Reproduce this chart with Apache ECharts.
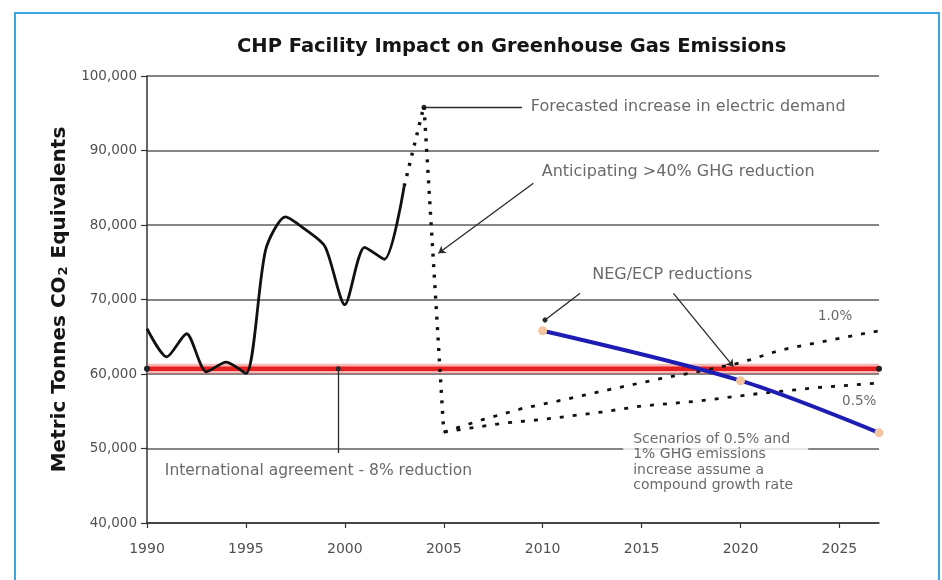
<!DOCTYPE html>
<html>
<head>
<meta charset="utf-8">
<title>CHP Facility Impact on Greenhouse Gas Emissions</title>
<script src="https://cdn.jsdelivr.net/npm/echarts@6/dist/echarts.min.js"></script>
<style>
  html, body { margin: 0; padding: 0; background: #ffffff; }
  #chart { width: 942px; height: 580px; }
</style>
</head>
<body>
<div id="chart"></div>
<script>
// ---- data -------------------------------------------------------------
// Measured emissions, 1990-2003 (tonnes CO2e)
const histYears  = [1990, 1991, 1992, 1993, 1994, 1995, 1996, 1997, 1998, 1999, 2000, 2001, 2002, 2003];
const histValues = [66100, 62300, 65400, 60300, 61600, 60100, 76700, 81100, 79400, 77100, 69300, 77000, 75400, 85200];

// Forecast demand spike, then the drop once the CHP plant runs
const forecastYears  = [2003, 2004, 2005];
const forecastValues = [85200, 96000, 52200];

// International agreement target: 8% below 1990
const targetYears  = [1990, 2027];
const targetValues = [60700, 60700];

// NEG/ECP reduction path
const negYears  = [2010, 2020, 2027];
const negValues = [65800, 59100, 52100];

// Growth scenarios after 2005
const growth10Years  = [2005, 2007, 2009, 2011, 2013, 2016, 2018, 2020, 2022, 2025, 2027];
const growth10Values = [52200, 53900, 55400, 56500, 57700, 59400, 60400, 61500, 63200, 64800, 65800];
const growth05Years  = [2005, 2008, 2010, 2013, 2015, 2018, 2021, 2024, 2027];
const growth05Values = [52200, 53400, 53900, 54900, 55700, 56400, 57400, 58200, 58800];

// Axis ticks
const xTicks = [1990, 1995, 2000, 2005, 2010, 2015, 2020, 2025];
const yTicks = [40000, 50000, 60000, 70000, 80000, 90000, 100000];

// Callout texts, anchored in data space [year, tonnes]
const noteTexts = {
  forecast: 'Forecasted increase in electric demand',
  anticipating: 'Anticipating >40% GHG reduction',
  neg: 'NEG/ECP reductions',
  agreement: 'International agreement - 8% reduction',
  scenarios: 'Scenarios of 0.5% and\n1% GHG emissions\nincrease assume a\ncompound growth rate',
  g10: '1.0%',
  g05: '0.5%'
};
const noteAnchors = {
  forecast: [2009.4, 95900],
  anticipating: [2009.95, 87150],
  neg: [2016.55, 73300],
  agreement: [1990.9, 47000],
  scenarios: [2014.07, 52590],
  g10: [2024.78, 67700],
  g05: [2026.0, 56280]
};
// Leader lines [from, to]
const leaders = {
  forecast: [[2004, 95800], [2008.95, 95800]],
  anticipating: [[2009.53, 85600], [2004.73, 76200]],
  negStart: [[2011.89, 70830], [2010.12, 67250]],
  negMid: [[2016.61, 70830], [2019.64, 60980]],
  agreement: [[1999.67, 60700], [1999.67, 49400]]
};

// ---- chart ------------------------------------------------------------
const pairs = (xs, ys) => xs.map((x, i) => [x, ys[i]]);
const FONT = 'DejaVu Sans';
const TEXT_COLOR = '#444444';
const fmt = v => String(v).replace(/\B(?=(\d{3})+(?!\d))/g, ',');

const chart = echarts.init(document.getElementById('chart'), null, { renderer: 'canvas' });

function leaderPair(seg, startSym, endSym) {
  return [
    { coord: seg[0], symbol: startSym, symbolSize: startSym === 'none' ? 0 : 5 },
    { coord: seg[1], symbol: endSym, symbolSize: endSym === 'arrow' ? 7 : (endSym === 'none' ? 0 : 5) }
  ];
}

function note(key, align, vAlign, extra) {
  return {
    value: noteAnchors[key],
    label: Object.assign({
      show: true,
      position: 'inside',
      align: align,
      verticalAlign: vAlign,
      formatter: noteTexts[key],
      fontFamily: FONT,
      fontSize: 16,
      color: TEXT_COLOR
    }, extra || {})
  };
}

const option = {
  animation: false,
  backgroundColor: '#ffffff',
  title: {
    text: 'CHP Facility Impact on Greenhouse Gas Emissions',
    left: 237,
    top: 37,
    padding: 0,
    textStyle: { fontFamily: FONT, fontSize: 19.5, fontWeight: 'bold', color: '#151515' }
  },
  graphic: [{
    type: 'rect',
    silent: true,
    shape: { x: 15, y: 13, width: 924, height: 620 },
    style: { fill: 'none', stroke: '#3aa5de', lineWidth: 2 }
  }],
  grid: { left: 147, top: 76, width: 732, height: 447, containLabel: false },
  xAxis: {
    type: 'value',
    min: 1990,
    max: 2027,
    interval: 5,
    axisLine: { show: true, lineStyle: { color: '#333', width: 1.5 } },
    axisTick: { show: true, length: 5, customValues: xTicks, lineStyle: { color: '#333', width: 1.2 } },
    axisLabel: {
      customValues: xTicks, color: '#505050', fontFamily: FONT, fontSize: 14, margin: 19,
      formatter: v => String(v)
    },
    splitLine: { show: false }
  },
  yAxis: {
    type: 'value',
    min: 40000,
    max: 100000,
    interval: 10000,
    axisLine: { show: true, lineStyle: { color: '#333', width: 1.5 } },
    axisTick: { show: true, length: 6, lineStyle: { color: '#333', width: 1.2 } },
    axisLabel: { color: '#505050', fontFamily: FONT, fontSize: 13.5, margin: 10, formatter: v => fmt(v) },
    splitLine: { show: true, lineStyle: { color: '#5c5c5c', width: 1.5 } },
    name: 'Metric Tonnes CO{sub|2} Equivalents',
    nameLocation: 'middle',
    nameGap: 72,
    nameRotate: 90,
    nameTextStyle: {
      fontFamily: FONT, fontSize: 20, fontWeight: 'bold', color: '#151515',
      rich: { sub: { fontFamily: FONT, fontSize: 13, fontWeight: 'bold', color: '#151515', padding: [7, 1, 0, 1] } }
    }
  },
  series: [
    {
      name: 'target-halo', type: 'line', silent: true, z: 2,
      data: pairs(targetYears, targetValues),
      symbol: 'none',
      lineStyle: { color: 'rgba(240, 96, 96, 0.45)', width: 10 }
    },
    {
      name: 'target', type: 'line', silent: true, z: 3,
      data: pairs(targetYears, targetValues),
      symbol: 'circle', symbolSize: 6, showSymbol: true,
      itemStyle: { color: '#222' },
      lineStyle: { color: '#e61f1f', width: 4.5 }
    },
    {
      name: 'historical', type: 'line', silent: true, z: 5,
      data: pairs(histYears, histValues),
      smooth: 0.25, symbol: 'none',
      lineStyle: { color: '#111', width: 2.8 }
    },
    {
      name: 'forecast', type: 'line', silent: true, z: 5,
      data: pairs(forecastYears, forecastValues),
      symbol: 'none',
      lineStyle: { color: '#111', width: 3.4, type: [3, 7.5] }
    },
    {
      name: 'growth 1.0%', type: 'line', silent: true, z: 4,
      data: pairs(growth10Years, growth10Values),
      symbol: 'none',
      lineStyle: { color: '#111', width: 2.8, type: [4, 9] }
    },
    {
      name: 'growth 0.5%', type: 'line', silent: true, z: 4,
      data: pairs(growth05Years, growth05Values),
      symbol: 'none',
      lineStyle: { color: '#111', width: 2.8, type: [4, 9] }
    },
    {
      name: 'NEG/ECP', type: 'line', silent: true, z: 6,
      data: pairs(negYears, negValues),
      smooth: 0.3,
      symbol: 'circle', symbolSize: 9, showSymbol: true,
      itemStyle: { color: '#f3c4a0' },
      lineStyle: { color: '#1d1db4', width: 4 }
    },
    {
      name: 'leaders', type: 'line', silent: true, z: 7,
      data: [],
      markLine: {
        silent: true,
        animation: false,
        label: { show: false },
        lineStyle: { color: '#2a2a2a', width: 1.3, type: 'solid' },
        emphasis: { disabled: true },
        data: [
          leaderPair(leaders.forecast, 'circle', 'none'),
          leaderPair(leaders.anticipating, 'none', 'arrow'),
          leaderPair(leaders.negStart, 'none', 'circle'),
          leaderPair(leaders.negMid, 'none', 'arrow'),
          leaderPair(leaders.agreement, 'circle', 'none')
        ]
      }
    },
    {
      name: 'notes', type: 'scatter', silent: true, z: 8,
      symbolSize: 0,
      itemStyle: { color: 'rgba(0,0,0,0)' },
      data: [
        note('forecast', 'left', 'middle'),
        note('anticipating', 'left', 'middle'),
        note('neg', 'center', 'middle'),
        note('agreement', 'left', 'middle', { fontSize: 15.5 }),
        note('scenarios', 'left', 'top', {
          fontSize: 14, lineHeight: 15.6, width: 165, overflow: 'none',
          backgroundColor: '#ffffff', padding: [2, 10, 3, 10]
        }),
        note('g10', 'center', 'middle', { fontSize: 13.5 }),
        note('g05', 'center', 'middle', { fontSize: 13.5 })
      ]
    }
  ]
};

chart.setOption(option);
</script>
</body>
</html>
